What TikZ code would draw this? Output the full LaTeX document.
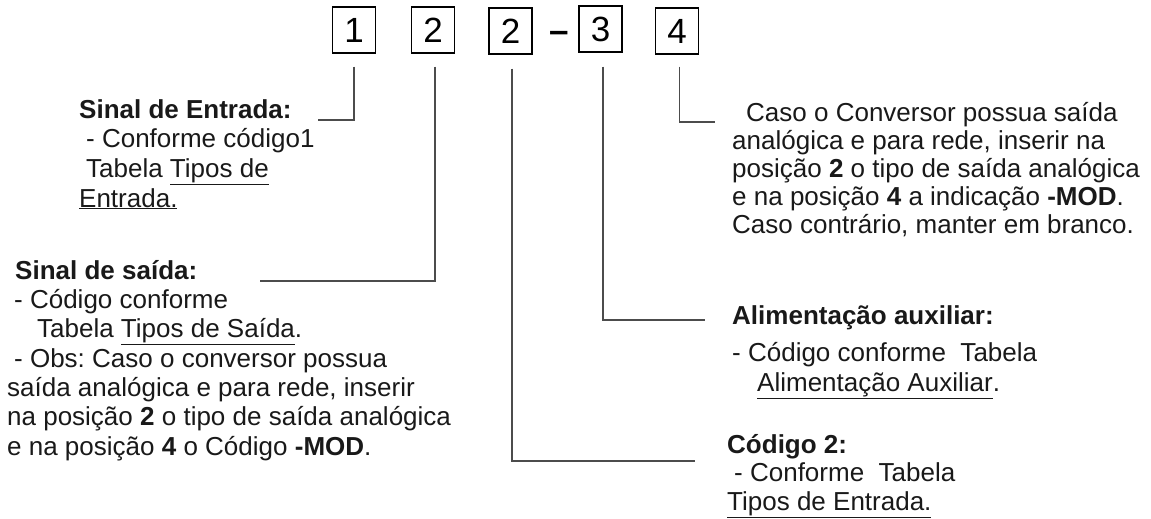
\documentclass[tikz,border=0pt]{standalone}
\usepackage{fontspec}
\setmainfont{Liberation Sans}
\begin{document}
\begin{tikzpicture}[x=1pt,y=-1pt,
  digitbox/.style={draw=black,line width=1.4pt,minimum width=43pt,minimum height=46pt,inner sep=0pt,font=\fontsize{35}{40}\selectfont},
  conn/.style={draw=black!70,line width=1.3pt},
  note/.style={anchor=base west,inner sep=0pt,align=left,text=black!90,font=\fontsize{26}{29.3}\selectfont\frenchspacing}]
\useasboundingbox (0,0) rectangle (1151,519);
% code boxes
\node[digitbox] (b1) at (354,30) {1};
\node[digitbox] (b2) at (433,30) {2};
\node[digitbox] (b3) at (510.5,31) {2};
\node[inner sep=0pt,anchor=base,font=\fontsize{35}{40}\selectfont\bfseries] (dash) at (559.5,43) {–};
\node[digitbox] (b4) at (600.5,29) {3};
\node[digitbox] (b5) at (677,31) {4};
% texts (anchored at the baseline of their last line)
\node[note,font=\fontsize{26}{29.6}\selectfont\frenchspacing] (t1) at (79,207) {\textbf{Sinal de Entrada:}\\
\hspace*{7pt}- Conforme código1\\
\hspace*{7pt}Tabela \underline{Tipos de}\\
\underline{Entrada.}};
\node[note] (t2) at (7,455) {\hspace*{8pt}\textbf{Sinal de saída:}\\
\hspace*{7pt}- Código conforme\\
\hspace*{30pt}Tabela \underline{Tipos de Saída}.\\
\hspace*{7pt}- Obs: Caso o conversor possua\\
saída analógica e para rede, inserir\\
na posição \textbf{2} o tipo de saída analógica\\
e na posição \textbf{4} o Código \textbf{-MOD}.};
\node[note,font=\fontsize{26}{28}\selectfont\frenchspacing] (t5) at (732,233) {\hspace*{14pt}Caso o Conversor possua saída\\
analógica e para rede, inserir na\\
posição \textbf{2} o tipo de saída analógica\\
e na posição \textbf{4} a indicação \textbf{-MOD}.\\
Caso contrário, manter em branco.};
\node[note] (t4) at (732,391) {\textbf{Alimentação auxiliar:}\\[8pt]
- Código conforme\ \ Tabela\\
\hspace*{25pt}\underline{Alimentação Auxiliar}.};
\node[note,font=\fontsize{26}{28.5}\selectfont\frenchspacing] (t3) at (727,510) {\textbf{Código 2:}\\
\hspace*{7pt}- Conforme\ \ Tabela\\
\underline{Tipos de Entrada.}};
% free ends of connectors
\coordinate (e1) at (318,120);
\coordinate (e2) at (260,281);
\coordinate (e3) at (695,461);
\coordinate (e4) at (705,320);
\coordinate (e5) at (715,122);
\draw[conn] ([yshift=-13pt]b1.south) |- (e1);
\draw[conn] ([yshift=-13pt,xshift=2pt]b2.south) |- (e2);
\draw[conn] ([yshift=-14pt,xshift=1.5pt]b3.south) |- (e3);
\draw[conn] ([yshift=-14pt,xshift=2.5pt]b4.south) |- (e4);
\draw[conn] ([yshift=-12pt,xshift=2.5pt]b5.south) |- (e5);
\end{tikzpicture}
\end{document}
